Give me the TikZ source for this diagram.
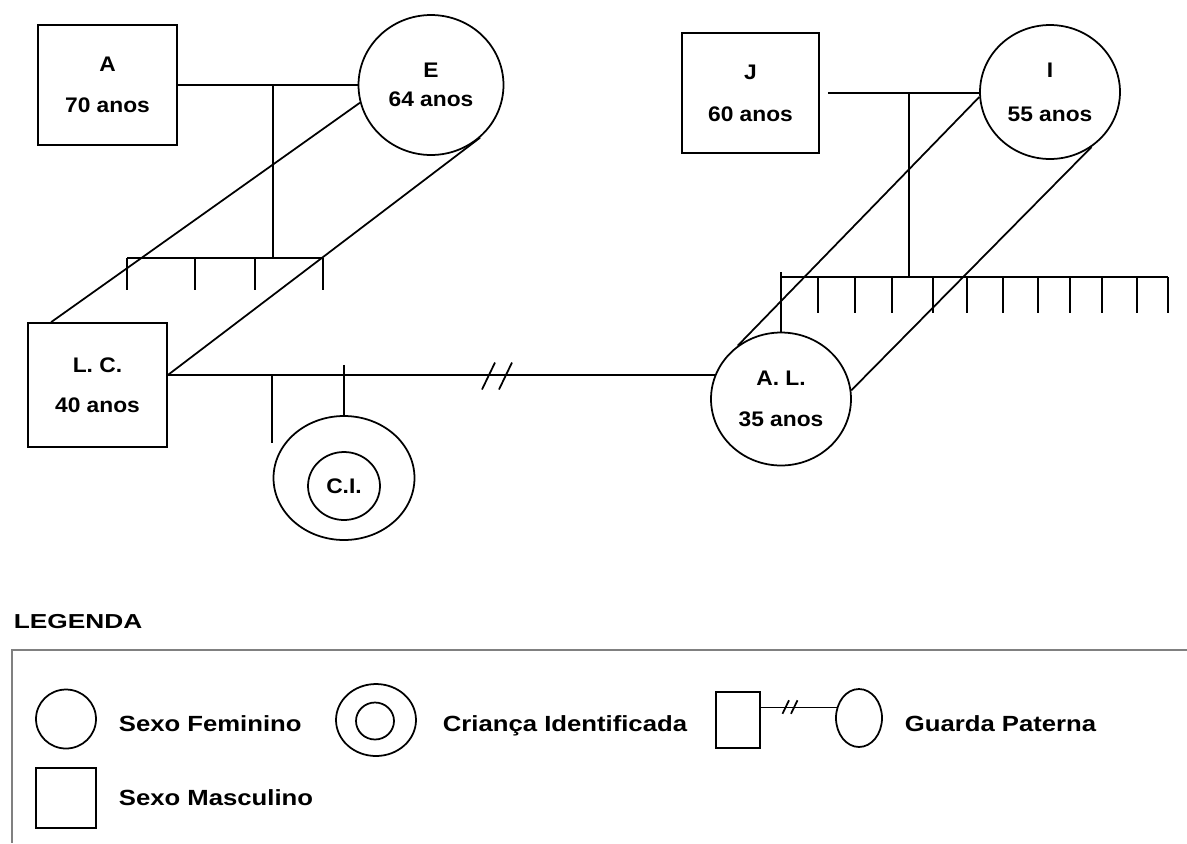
\documentclass[tikz,border=0pt]{standalone}
\usepackage{fontspec}
\setmainfont{Liberation Sans}
\newfontfamily\gfont{Liberation Sans}[FakeStretch=1.08]
\newfontfamily\lfont{Liberation Sans}[FakeStretch=1.17]
\newfontfamily\hfont{Liberation Sans}[FakeStretch=1.3]
\usetikzlibrary{shapes.geometric,calc}
\begin{document}
\begin{tikzpicture}[
        x=0.02cm, y=-0.02cm,
        line width=1pt,
        homem/.style={draw, rectangle, align=center, inner sep=0pt, font=\gfont\bfseries\fontsize{12}{23}\selectfont},
        mulher/.style={draw, ellipse, align=center, inner sep=0pt, font=\gfont\bfseries\fontsize{12}{23}\selectfont},
        legtxt/.style={anchor=base west, inner sep=0pt, font=\lfont\bfseries\fontsize{12.5}{15}\selectfont},
        corte/.pic={\draw (-0.3cm,-0.27cm) -- (-0.04cm,0.27cm) (0.04cm,-0.27cm) -- (0.3cm,0.27cm);}
    ]
    \useasboundingbox (0,0) rectangle (1187,843);

    % familia de L. C.
    \node[homem, minimum width=2.78cm, minimum height=2.4cm] (A) at (107.5,85) {A\\70 anos};
    \node[mulher, minimum width=2.9cm, minimum height=2.8cm, font=\gfont\bfseries\fontsize{12}{16.4}\selectfont] (E) at (431,85) {E\\64 anos};
    \coordinate (fAE) at (273,258);
    \coordinate (sAE1) at (127,258);
    \coordinate (sAE2) at (323,258);
    \draw (A) -- (E);
    \draw (fAE |- A) -- (fAE);
    \draw (sAE1) -- (sAE2);
    \foreach \x in {127,195,255,323}
        \draw (\x,258) -- ++(0,32);

    % familia de A. L.
    \node[homem, minimum width=2.74cm, minimum height=2.4cm, font=\gfont\bfseries\fontsize{12}{24}\selectfont] (J) at (750.5,93) {J\\60 anos};
    \node[mulher, minimum width=2.8cm, minimum height=2.68cm, font=\gfont\bfseries\fontsize{12}{25}\selectfont] (I) at (1050,92) {I\\55 anos};
    \coordinate (fJI) at (909,277);
    \coordinate (sJI1) at (781,277);
    \coordinate (sJI2) at (1168,277);
    \draw ([xshift=0.16cm]J.east) -- (J.east -| I.west);
    \draw (fJI |- J.east) -- (fJI);
    \draw (sJI1) -- (sJI2);
    \foreach \x in {818,855,892,933,967,1003,1038,1070,1102,1137,1168}
        \draw (\x,277) -- ++(0,36);

    % casal e filho
    \node[homem, minimum width=2.78cm, minimum height=2.48cm] (LC) at (97.5,385) {L. C.\\40 anos};
    \node[mulher, minimum width=2.8cm, minimum height=2.66cm] (AL) at (781,399) {A. L.\\35 anos};
    \node[mulher, minimum width=2.82cm, minimum height=2.48cm] (CI) at (344,478) {};
    \node[mulher, minimum width=1.44cm, minimum height=1.36cm] (CIin) at (344,486) {C.I.};
    \coordinate (fLA) at (272,443);
    \draw ([yshift=0.1cm]sJI1) -- (AL.north);
    \draw (E.194) -- ([xshift=0.48cm]LC.north west);
    \draw (E.313) -- ([yshift=0.2cm]LC.east);
    \draw (I.184) -- (AL.129);
    \draw (I.307) -- (AL.7);
    \draw (LC.east |- AL.160) -- (AL.160);
    \pic at (497,376) {corte};
    \draw (fLA |- AL.160) -- (fLA);
    \draw ($(CI.north |- AL.160)+(0,-10)$) -- (CI.north);

    % legenda
    \node[anchor=base west, inner sep=0pt, font=\hfont\bfseries\fontsize{11.5}{14}\selectfont] (leg) at (13,628) {LEGENDA};
    \coordinate (bx) at (12,650);
    \coordinate (bxr) at (1187,650);
    \coordinate (bxb) at (12,843);
    \draw[gray, line width=1.2pt] (bxr) -- (bx) -- (bxb);
    \node[mulher, minimum width=1.2cm, minimum height=1.18cm] (lF) at (66,719) {};
    \node[legtxt] (tF) at (118,731) {Sexo Feminino};
    \node[mulher, minimum width=1.6cm, minimum height=1.44cm] (lCI) at (376,720) {};
    \node[mulher, minimum width=0.76cm, minimum height=0.74cm] (lCIin) at (375,721) {};
    \node[legtxt] (tCI) at (442,731) {Criança Identificada};
    \node[homem, minimum width=0.88cm, minimum height=1.12cm] (lGm) at (738,720) {};
    \node[mulher, minimum width=0.92cm, minimum height=1.16cm] (lGf) at (859,718) {};
    \draw (lGm.east |- lGf.155) -- (lGf.155);
    \pic[scale=0.5] at (790,707) {corte};
    \node[legtxt] (tG) at (904,731) {Guarda Paterna};
    \node[homem, minimum width=1.2cm, minimum height=1.2cm] (lM) at (66,798) {};
    \node[legtxt] (tM) at (118,805) {Sexo Masculino};
\end{tikzpicture}
\end{document}
